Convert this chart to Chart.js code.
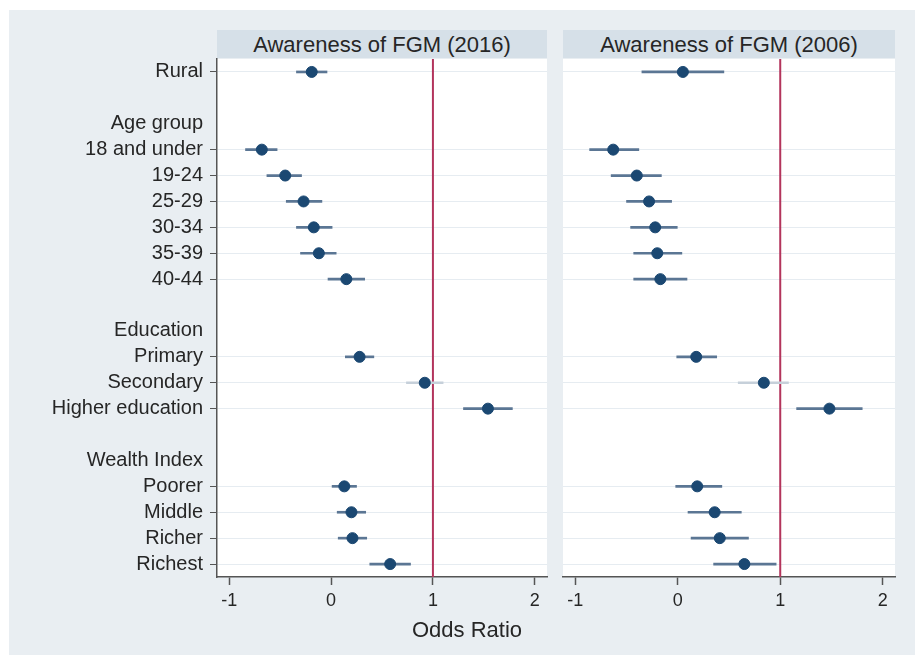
<!DOCTYPE html>
<html>
<head>
<meta charset="utf-8">
<script src="https://cdn.jsdelivr.net/npm/chart.js@4/dist/chart.umd.min.js"></script>
<style>
  body { margin: 0; width: 915px; height: 657px; background: #fff; position: relative; overflow: hidden;
         font-family: "Liberation Sans", Arial, sans-serif; color: #262626; }
  #frame { position: absolute; left: 9px; top: 10px; width: 906px; height: 645px; background: #e9eef2; }
  canvas { position: absolute; top: 0; }
  .strip { position: absolute; top: 30px; height: 28px; line-height: 30px; background: #d6e0e8;
           text-align: center; font-size: 22px; }
  #xlabel { position: absolute; left: 367px; width: 200px; top: 617px; text-align: center; font-size: 22px; }
</style>
</head>
<body>
<div id="frame"></div>
<canvas id="left" width="555" height="657" style="left:0"></canvas>
<canvas id="right" width="360" height="657" style="left:555px"></canvas>
<div class="strip" style="left:217px;width:330px">Awareness of FGM (2016)</div>
<div class="strip" style="left:563px;width:332px">Awareness of FGM (2006)</div>
<div id="xlabel">Odds Ratio</div>
<script>
// rows (blank strings are spacer rows)
var rows = ["Rural", "", "Age group", "18 and under", "19-24", "25-29", "30-34", "35-39", "40-44",
  "", "Education", "Primary", "Secondary", "Higher education",
  "", "Wealth Index", "Poorer", "Middle", "Richer", "Richest"];

// 2016 estimates and 95% CI
var est2016 = [-0.19, null, null, -0.68, -0.45, -0.27, -0.17, -0.12, 0.15, null, null, 0.28, 0.92, 1.54, null, null, 0.13, 0.20, 0.21, 0.58];
var lo2016  = [-0.34, null, null, -0.84, -0.63, -0.44, -0.34, -0.30, -0.03, null, null, 0.14, 0.74, 1.30, null, null, 0.01, 0.06, 0.07, 0.38];
var hi2016  = [-0.04, null, null, -0.53, -0.29, -0.09, 0.01, 0.05, 0.33, null, null, 0.42, 1.10, 1.78, null, null, 0.25, 0.34, 0.35, 0.78];

// 2006 estimates and 95% CI
var est2006 = [0.05, null, null, -0.63, -0.40, -0.28, -0.22, -0.20, -0.17, null, null, 0.18, 0.84, 1.48, null, null, 0.19, 0.36, 0.41, 0.65];
var lo2006  = [-0.35, null, null, -0.86, -0.65, -0.50, -0.46, -0.43, -0.43, null, null, -0.01, 0.59, 1.16, null, null, -0.02, 0.10, 0.13, 0.35];
var hi2006  = [0.45, null, null, -0.38, -0.16, -0.06, 0.00, 0.04, 0.09, null, null, 0.38, 1.08, 1.80, null, null, 0.43, 0.62, 0.69, 0.96];

var xTicks = [-1, 0, 1, 2];
var refValue = 1;

var tickFont = { family: "Liberation Sans", size: 18 };
var labelFont = { family: "Liberation Sans", size: 20 };

// white plot region
var plotBg = {
  id: "plotBg",
  beforeDraw(chart) {
    var a = chart.chartArea, ctx = chart.ctx;
    ctx.save();
    ctx.fillStyle = "#ffffff";
    ctx.fillRect(a.left, a.top, a.right - a.left, a.bottom - a.top);
    ctx.restore();
  }
};

// vertical reference line at odds ratio 1
var refLine = {
  id: "refLine",
  beforeDatasetsDraw(chart) {
    var a = chart.chartArea, ctx = chart.ctx;
    var x = chart.scales.x.getPixelForValue(refValue);
    ctx.save();
    ctx.strokeStyle = "#b3345c";
    ctx.lineWidth = 2;
    ctx.beginPath();
    ctx.moveTo(x, a.top);
    ctx.lineTo(x, a.bottom);
    ctx.stroke();
    ctx.restore();
  }
};

function makeChart(id, est, lo, hi, showLabels) {
  var ci = lo.map((v, i) => (v == null ? null : [v, hi[i]]));
  new Chart(document.getElementById(id), {
    type: "bar",
    data: {
      labels: rows,
      datasets: [
        {
          type: "line",
          indexAxis: "y",
          data: est,
          showLine: false,
          pointRadius: 5.5,
          pointBackgroundColor: "#1b4872",
          pointBorderColor: "#1b4872",
          order: 0,
        },
        {
          type: "bar",
          indexAxis: "y",
          data: ci,
          barThickness: 2,
          backgroundColor: (c) => {
            var r = ci[c.dataIndex];
            return r && r[0] < refValue && r[1] > refValue ? "#c6d0da" : "#5b7694";
          },
          order: 1,
        },
      ],
    },
    options: {
      indexAxis: "y",
      responsive: false,
      animation: false,
      events: [],
      layout: { padding: showLabels ? { top: 59, right: 8, left: 0, bottom: 0 } : { top: 59, right: 20, left: 8, bottom: 0 } },
      plugins: { legend: { display: false }, tooltip: { enabled: false } },
      scales: {
        x: {
          type: "linear",
          min: -1.12,
          max: 2.12,
          afterBuildTicks: (s) => { s.ticks = xTicks.map((v) => ({ value: v })); },
          afterFit: (s) => { s.height = 80; },
          grid: { drawOnChartArea: false, drawTicks: true, tickLength: 8, tickColor: "#555", tickWidth: 1.5 },
          border: { display: true, color: "#555", width: 1.5 },
          ticks: { font: tickFont, color: "#262626", padding: 5, maxRotation: 0 },
        },
        y: {
          type: "category",
          offset: true,
          afterFit: (s) => { s.width = showLabels ? 217 : 0; },
          grid: {
            offset: false,
            drawTicks: showLabels,
            tickLength: 7,
            color: (c) => (est[c.index] == null ? "rgba(0,0,0,0)" : "#e6ecf1"),
            tickColor: (c) => (est[c.index] == null ? "rgba(0,0,0,0)" : "#555"),
          },
          border: { display: showLabels, color: "#555", width: 1.5 },
          ticks: { display: showLabels, autoSkip: false, font: labelFont, color: "#262626", padding: 7 },
        },
      },
    },
    plugins: [plotBg, refLine],
  });
}

makeChart("left", est2016, lo2016, hi2016, true);
makeChart("right", est2006, lo2006, hi2006, false);
</script>
</body>
</html>
